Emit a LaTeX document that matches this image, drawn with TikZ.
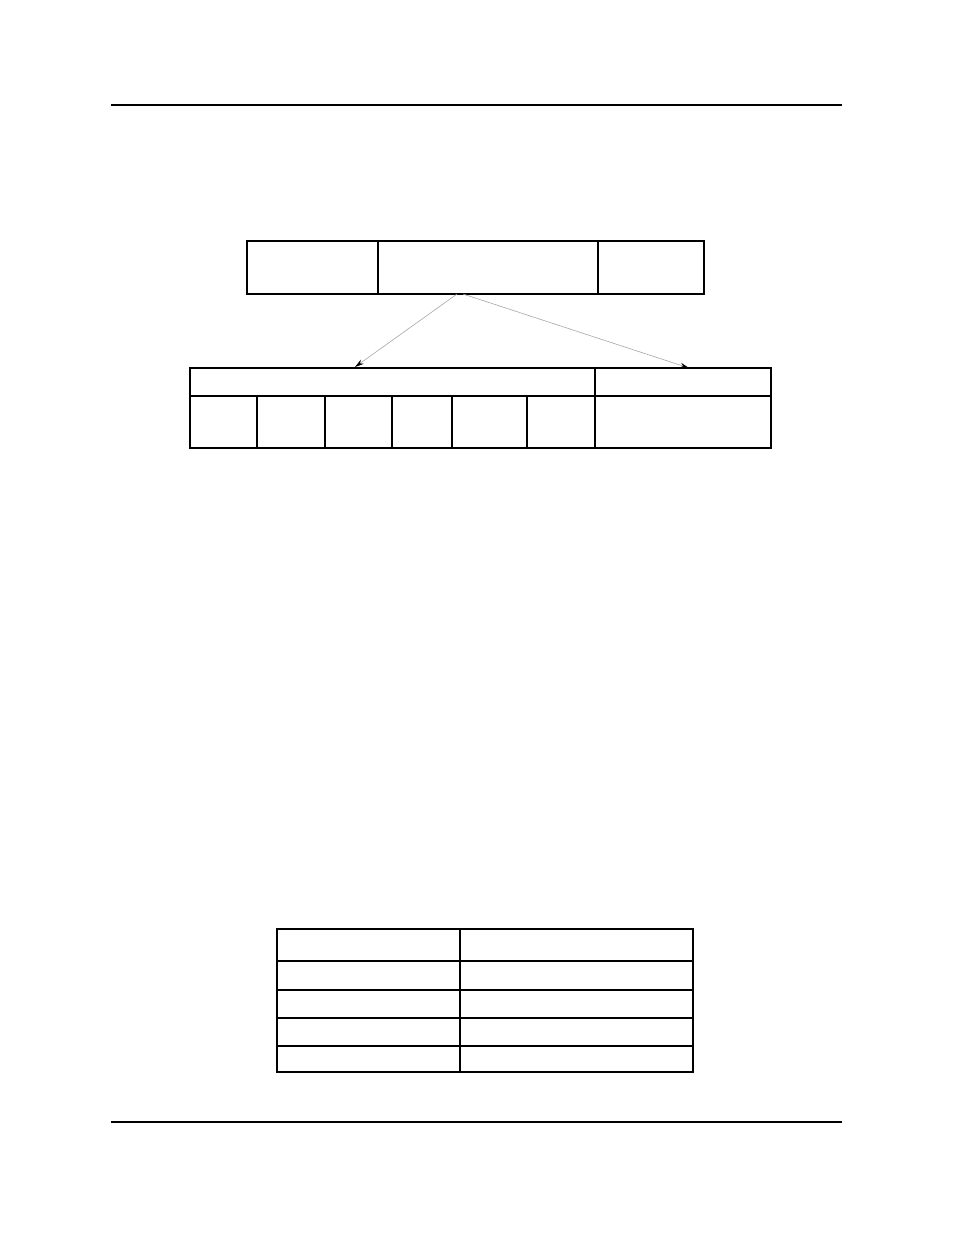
\documentclass[tikz,border=0pt]{standalone}
\usetikzlibrary{arrows.meta}
\begin{document}
\begin{tikzpicture}[x=1pt,y=-1pt,
  cell/.style={draw,line width=1.1pt,anchor=north west,inner sep=0pt,outer sep=0pt},
  rule/.style={line width=1.1pt},
  link/.style={draw=gray!70,line width=0.6pt,-{Stealth[length=9pt,width=5pt,black]}}]
\useasboundingbox (0,0) rectangle (954,1235);
\fill[white] (0,0) rectangle (954,1235);
% page rules
\coordinate (r1a) at (111,105); \coordinate (r1b) at (842,105);
\coordinate (r2a) at (111,1122); \coordinate (r2b) at (842,1122);
\draw[rule] (r1a) -- (r1b);
\draw[rule] (r2a) -- (r2b);
% top box
\node[cell,minimum width=131pt,minimum height=53pt] (t1) at (247,241) {};
\node[cell,minimum width=220pt,minimum height=53pt] (t2) at (378,241) {};
\node[cell,minimum width=106pt,minimum height=53pt] (t3) at (598,241) {};
% lower structure
\node[cell,minimum width=405pt,minimum height=28pt] (h1) at (190,368) {};
\node[cell,minimum width=176pt,minimum height=28pt] (h2) at (595,368) {};
\node[cell,minimum width=67pt,minimum height=52pt] (c1) at (190,396) {};
\node[cell,minimum width=68pt,minimum height=52pt] (c2) at (257,396) {};
\node[cell,minimum width=67pt,minimum height=52pt] (c3) at (325,396) {};
\node[cell,minimum width=60pt,minimum height=52pt] (c4) at (392,396) {};
\node[cell,minimum width=75pt,minimum height=52pt] (c5) at (452,396) {};
\node[cell,minimum width=68pt,minimum height=52pt] (c6) at (527,396) {};
\node[cell,minimum width=176pt,minimum height=52pt] (c7) at (595,396) {};
% arrows
\coordinate (s1) at (457,294);
\coordinate (s2) at (463,294);
\coordinate (e1) at (355,367);
\coordinate (e2) at (689,368);
\draw[link] (s1) -- (e1);
\draw[link] (s2) -- (e2);
% bottom table
\node[cell,minimum width=183pt,minimum height=32pt] (a1) at (277,929) {};
\node[cell,minimum width=233pt,minimum height=32pt] (b1) at (460,929) {};
\node[cell,minimum width=183pt,minimum height=29pt] (a2) at (277,961) {};
\node[cell,minimum width=233pt,minimum height=29pt] (b2) at (460,961) {};
\node[cell,minimum width=183pt,minimum height=28pt] (a3) at (277,990) {};
\node[cell,minimum width=233pt,minimum height=28pt] (b3) at (460,990) {};
\node[cell,minimum width=183pt,minimum height=28pt] (a4) at (277,1018) {};
\node[cell,minimum width=233pt,minimum height=28pt] (b4) at (460,1018) {};
\node[cell,minimum width=183pt,minimum height=26pt] (a5) at (277,1046) {};
\node[cell,minimum width=233pt,minimum height=26pt] (b5) at (460,1046) {};
\end{tikzpicture}
\end{document}
